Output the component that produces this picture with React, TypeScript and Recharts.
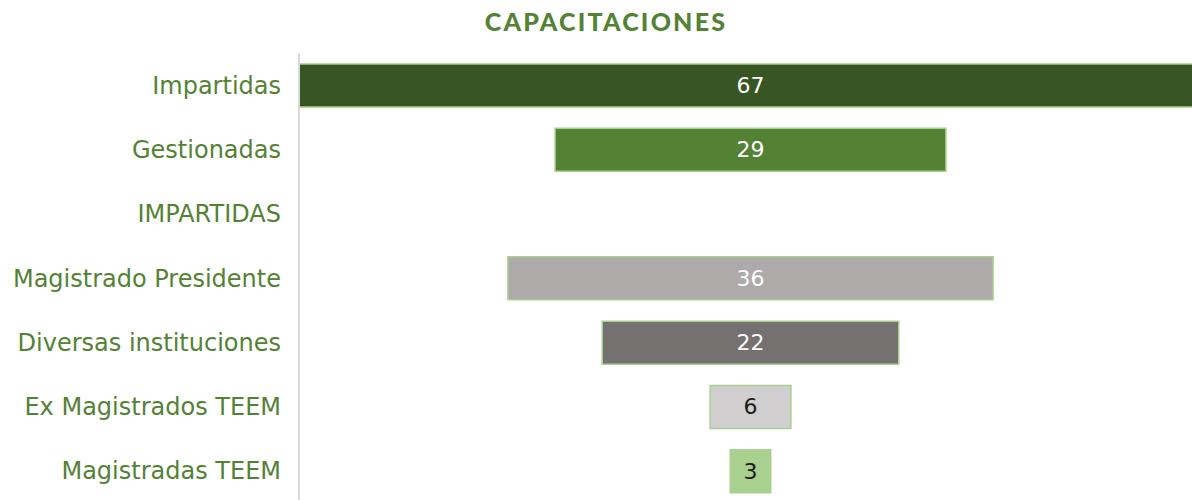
import React from "react";
import { BarChart, Bar, XAxis, YAxis, Cell, LabelList } from "recharts";

const categories = [
  "Impartidas",
  "Gestionadas",
  "IMPARTIDAS",
  "Magistrado Presidente",
  "Diversas instituciones",
  "Ex Magistrados TEEM",
  "Magistradas TEEM",
];
const values: (number | null)[] = [67, 29, null, 36, 22, 6, 3];
const fills = ["#375623", "#548235", "#ffffff", "#AEAAAA", "#767171", "#D0CECE", "#A9D08E"];
const labelColors = ["#ffffff", "#ffffff", "#ffffff", "#ffffff", "#ffffff", "#1a1a1a", "#1a1a1a"];
const maxValue = 67;

const data = categories.map((name, i) => {
  const v = values[i];
  return {
    name,
    offset: v == null ? 0 : (maxValue - v) / 2,
    value: v == null ? 0 : v,
  };
});

const FONT = "'DejaVu Sans', sans-serif";
const TITLE_FONT = "Lato, sans-serif";

const renderLabel = (props: any) => {
  const { x, y, width, height, value } = props;
  if (!value) return null;
  const idx = values.indexOf(value);
  return (
    <text
      x={x + width / 2}
      y={y + height / 2}
      textAnchor="middle"
      dominantBaseline="central"
      fill={labelColors[idx] || "#ffffff"}
      fontFamily={FONT}
      fontSize={22}
    >
      {value}
    </text>
  );
};

export default function App() {
  return (
    <div
      style={{
        position: "absolute",
        left: 0,
        top: 0,
        width: 1192,
        height: 500,
        overflow: "hidden",
        background: "#ffffff",
      }}
    >
      <div
        style={{
          position: "absolute",
          left: 0,
          top: 6,
          width: 1212,
          textAlign: "center",
          fontFamily: TITLE_FONT,
          fontWeight: 900,
          fontSize: 25,
          color: "#548235",
          letterSpacing: 2.2,
        }}
      >
        CAPACITACIONES
      </div>
      <BarChart
        width={1202}
        height={510}
        data={data}
        layout="vertical"
        margin={{ top: 53, right: 0, bottom: 7, left: 0 }}
      >
        <XAxis type="number" domain={[0, maxValue]} hide />
        <YAxis
          type="category"
          dataKey="name"
          width={299}
          tickLine={false}
          axisLine={{ stroke: "#d9d9d9", strokeWidth: 2 }}
          tick={{ fill: "#548235", fontSize: 24, fontFamily: FONT }}
          tickMargin={12}
          interval={0}
        />
        <Bar dataKey="offset" stackId="f" fill="transparent" barSize={43} isAnimationActive={false} />
        <Bar dataKey="value" stackId="f" barSize={43} isAnimationActive={false} strokeWidth={1.5}>
          {data.map((d, i) => (
            <Cell
              key={d.name}
              fill={fills[i]}
              stroke={values[i] == null ? "none" : "#A9D08E"}
            />
          ))}
          <LabelList dataKey="value" content={renderLabel} />
        </Bar>
      </BarChart>
    </div>
  );
}
